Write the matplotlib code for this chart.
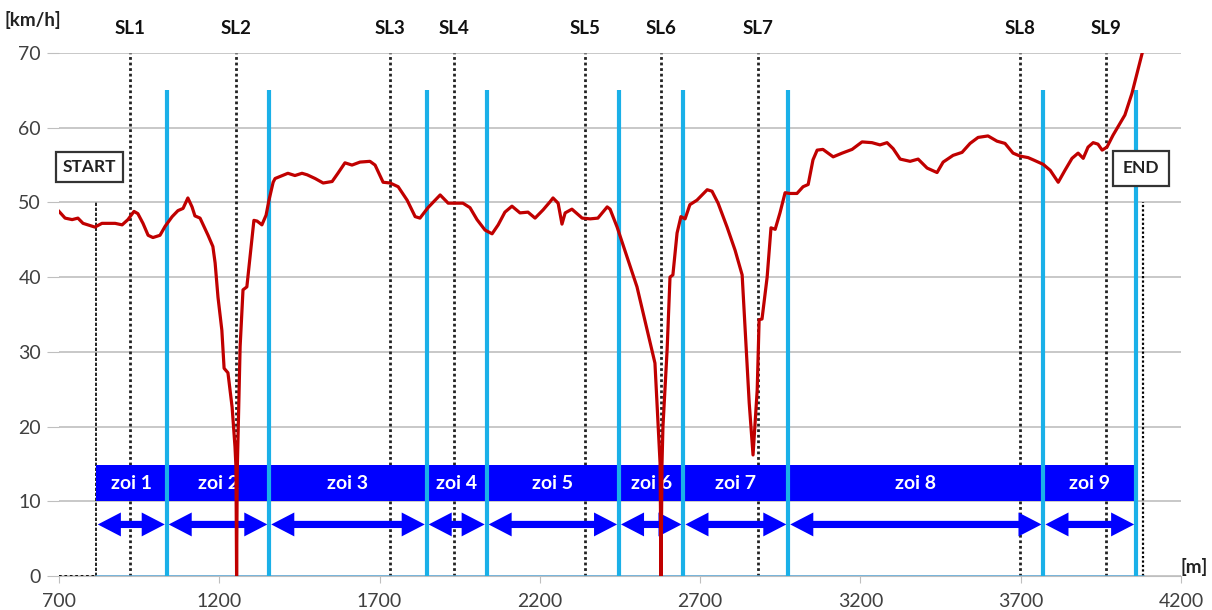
import matplotlib
matplotlib.use("Agg")
import matplotlib.pyplot as plt
import numpy as np

plt.rcParams['font.family'] = ['Lato', 'DejaVu Sans']

# speed profile along the route [m], [km/h]
dist = [700, 719, 741, 759, 775, 790, 812, 834, 875, 897, 915, 934, 946, 962, 978,
        993, 1015, 1031, 1053, 1071, 1087, 1102, 1115, 1124, 1140, 1165, 1180, 1187,
        1196, 1208, 1215, 1227, 1240, 1249, 1252, 1254, 1256, 1265, 1274, 1286, 1296,
        1308, 1318, 1333, 1346, 1355, 1368, 1374, 1414, 1436, 1458, 1474, 1499, 1524,
        1552, 1570, 1592, 1614, 1639, 1670, 1686, 1711, 1733, 1758, 1786, 1811, 1826,
        1851, 1889, 1914, 1960, 1982, 2004, 2029, 2051, 2070, 2091, 2113, 2138, 2163,
        2185, 2210, 2232, 2241, 2257, 2269, 2279, 2300, 2332, 2357, 2381, 2410, 2419,
        2441, 2472, 2503, 2544, 2559, 2569, 2575, 2578, 2581, 2584, 2597, 2606, 2615,
        2628, 2640, 2653, 2668, 2690, 2722, 2737, 2756, 2784, 2809, 2831, 2840, 2853,
        2865, 2878, 2884, 2893, 2909, 2921, 2934, 2949, 2965, 2980, 3002, 3021, 3037,
        3052, 3065, 3083, 3115, 3143, 3174, 3205, 3236, 3261, 3283, 3302, 3324, 3355,
        3380, 3408, 3439, 3458, 3489, 3517, 3542, 3567, 3598, 3626, 3651, 3676, 3698,
        3723, 3739, 3770, 3792, 3817, 3838, 3860, 3879, 3895, 3910, 3926, 3941, 3954,
        3969, 3988, 4010, 4025, 4047, 4063, 4079]
speed = [48.8, 47.9, 47.7, 47.9, 47.2, 47.0, 46.7, 47.2, 47.2, 47.0, 47.7, 48.8, 48.5,
         47.2, 45.6, 45.3, 45.6, 46.8, 48.1, 48.9, 49.2, 50.6, 49.4, 48.2, 47.9, 45.6,
         44.1, 41.9, 37.3, 32.9, 27.8, 27.2, 22.6, 17.3, 14.6, 0.0, 14.0, 30.7, 38.3,
         38.7, 42.7, 47.6, 47.5, 47.0, 48.3, 50.3, 52.7, 53.2, 53.9, 53.6, 53.9, 53.7,
         53.2, 52.6, 52.8, 53.9, 55.3, 55.0, 55.4, 55.5, 55.0, 52.7, 52.6, 52.1, 50.3,
         48.1, 47.9, 49.3, 51.0, 49.9, 49.9, 49.3, 47.7, 46.3, 45.8, 47.0, 48.7, 49.5,
         48.6, 48.7, 47.9, 49.0, 50.1, 50.6, 49.9, 47.1, 48.6, 49.1, 47.9, 47.8, 47.9,
         49.4, 49.1, 46.7, 42.7, 38.7, 31.2, 28.5, 20.0, 15.1, 0.0, 15.0, 20.0, 30.3,
         40.0, 40.3, 45.9, 48.1, 47.8, 49.7, 50.3, 51.7, 51.5, 49.9, 46.7, 43.6, 40.3,
         33.3, 23.2, 16.2, 24.9, 34.3, 34.4, 40.0, 46.6, 46.4, 48.6, 51.3, 51.2, 51.2,
         52.1, 52.4, 55.7, 57.0, 57.1, 56.1, 56.6, 57.1, 58.1, 58.0, 57.7, 58.0, 57.2,
         55.8, 55.5, 55.8, 54.6, 54.0, 55.4, 56.3, 56.7, 57.9, 58.7, 58.9, 58.2, 57.9,
         56.6, 56.2, 56.0, 55.7, 55.1, 54.3, 52.7, 54.3, 55.9, 56.6, 55.9, 57.4, 58.0,
         57.8, 57.0, 57.4, 59.0, 60.6, 61.7, 64.6, 67.3, 70.0]

start_x = 815
end_x = 4083
stop_lines = [921, 1252, 1733, 1932, 2341, 2578, 2880, 3698, 3966]
stop_labels = ['SL1', 'SL2', 'SL3', 'SL4', 'SL5', 'SL6', 'SL7', 'SL8', 'SL9']
zone_bounds = [815, 1036, 1356, 1847, 2034, 2447, 2648, 2975, 3771, 4060]
zone_labels = ['zoi 1', 'zoi 2', 'zoi 3', 'zoi 4', 'zoi 5', 'zoi 6', 'zoi 7', 'zoi 8', 'zoi 9']

fig = plt.figure(figsize=(12.12, 6.10), dpi=100)
ax = fig.add_axes([59 / 1212, 34 / 610, 1122 / 1212, 523 / 610])
ax.set_xlim(700, 4200)
ax.set_ylim(0, 70)

ax.set_yticks(np.arange(0, 71, 10))
ax.set_xticks(np.arange(700, 4201, 500))
ax.grid(axis='y', color='#bfbfbf', lw=1.2, zorder=0)
ax.tick_params(axis='y', length=9, color='#bfbfbf', labelsize=14, labelcolor='#404040', pad=4)
ax.tick_params(axis='x', length=5, color='#bfbfbf', labelsize=14, labelcolor='#404040', pad=7)
for s in ['top', 'right', 'left']:
    ax.spines[s].set_visible(False)
ax.spines['bottom'].set_color('#bfbfbf')
ax.set_axisbelow(True)

# start / end markers
ax.plot([700, start_x], [0, 0], color='black', ls=(0, (1.5, 1.5)), lw=1.3, zorder=3)
ax.plot([start_x, start_x], [0, 50], color='black', ls=(0, (2, 1)), lw=1.2, zorder=3)
ax.plot([end_x, end_x], [0, 50], color='black', ls=(0, (1, 1)), lw=1.6, zorder=3)
ax.plot([start_x, end_x], [0, 0], color='#5fb0e0', lw=1.8, zorder=3)

box = dict(boxstyle='square,pad=0.4', fc='white', ec='#333333', lw=1.6)
ax.text(795, 54.8, 'START', ha='center', va='center', fontsize=12.5,
        fontweight='bold', color='#222222', bbox=box, zorder=6)
ax.text(4075, 54.6, 'END', ha='center', va='center', fontsize=12.5,
        fontweight='bold', color='#222222', bbox=dict(boxstyle='square,pad=0.55', fc='white',
                                                       ec='#333333', lw=1.6), zorder=6)

# stop lines
for x, lab in zip(stop_lines, stop_labels):
    ax.plot([x, x], [0, 70], color='#222222', ls=(0, (1, 1)), lw=2, zorder=2)
    ax.text(x, 73.3, lab, ha='center', va='center', fontsize=13.5,
            fontweight='bold', color='#111111', clip_on=False)

# zone bar
ax.fill_between([zone_bounds[0], zone_bounds[-1]], 10, 14.8, color='#0000ff', lw=0, zorder=4)
for i, lab in enumerate(zone_labels):
    xc = (zone_bounds[i] + zone_bounds[i + 1]) / 2
    ax.text(xc, 12.4, lab, ha='center', va='center', fontsize=14,
            fontweight='bold', color='white', zorder=5)

# double arrows per zone
ya, hl, hw, sw, gap = 6.9, 72, 1.6, 0.48, 6
for i in range(len(zone_labels)):
    x0 = zone_bounds[i] + gap
    x1 = zone_bounds[i + 1] - gap
    px = [x0, x0 + hl, x0 + hl, x1 - hl, x1 - hl, x1, x1 - hl, x1 - hl, x0 + hl, x0 + hl]
    py = [ya, ya + hw, ya + sw, ya + sw, ya + hw, ya, ya - hw, ya - sw, ya - sw, ya - hw]
    ax.fill(px, py, color='#0000ff', lw=0, zorder=4)

# zone boundary lines
for x in zone_bounds[1:]:
    ax.plot([x, x], [0, 65], color='#1ab0e8', lw=3, zorder=5, solid_capstyle='butt')

# speed
ax.plot(dist, speed, color='#c00000', lw=2.3, zorder=7)

fig.text(5 / 1212, 1 - 20 / 610, '[km/h]', ha='left', va='center', fontsize=13.5,
         fontweight='bold', color='#222222')
fig.text(1181 / 1212, (610 - 567) / 610, '[m]', ha='left', va='center', fontsize=13.5,
         fontweight='bold', color='#222222')

fig.savefig('out.png', dpi=100)
